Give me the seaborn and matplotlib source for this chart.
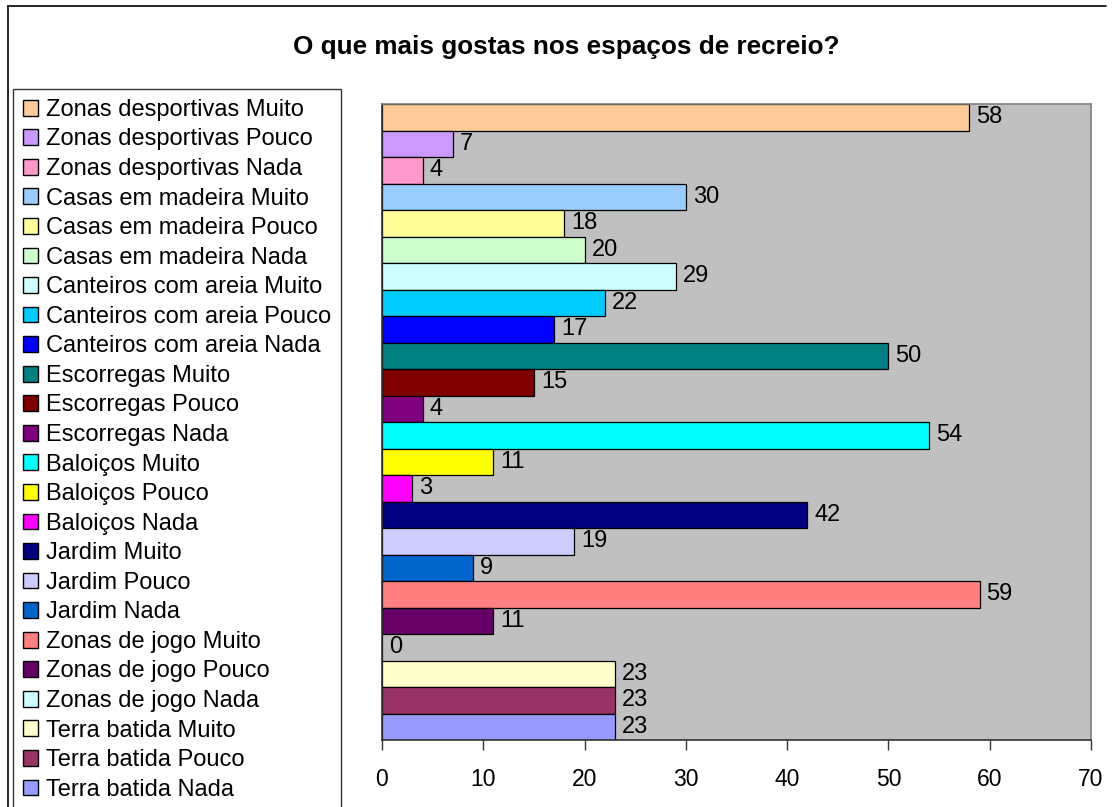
import pandas as pd
import matplotlib
matplotlib.use("Agg")
import matplotlib.pyplot as plt
from matplotlib.patches import Patch
from matplotlib.lines import Line2D
import seaborn as sns

# chart data
categories = [
    "Zonas desportivas Muito", "Zonas desportivas Pouco", "Zonas desportivas Nada",
    "Casas em madeira Muito", "Casas em madeira Pouco", "Casas em madeira Nada",
    "Canteiros com areia Muito", "Canteiros com areia Pouco", "Canteiros com areia Nada",
    "Escorregas Muito", "Escorregas Pouco", "Escorregas Nada",
    "Baloiços Muito", "Baloiços Pouco", "Baloiços Nada",
    "Jardim Muito", "Jardim Pouco", "Jardim Nada",
    "Zonas de jogo Muito", "Zonas de jogo Pouco", "Zonas de jogo Nada",
    "Terra batida Muito", "Terra batida Pouco", "Terra batida Nada",
]
values = [58, 7, 4, 30, 18, 20, 29, 22, 17, 50, 15, 4, 54, 11, 3, 42, 19, 9, 59, 11, 0, 23, 23, 23]
colors = [
    "#FFCC99", "#CC99FF", "#FF99CC",
    "#99CCFF", "#FFFF99", "#CCFFCC",
    "#CCFFFF", "#00CCFF", "#0000FF",
    "#008080", "#800000", "#800080",
    "#00FFFF", "#FFFF00", "#FF00FF",
    "#000080", "#CCCCFF", "#0066CC",
    "#FF8080", "#660066", "#CCFFFF",
    "#FFFFCC", "#993366", "#9999FF",
]
x_ticks = [0, 10, 20, 30, 40, 50, 60, 70]
title = "O que mais gostas nos espaços de recreio?"


def main():
    sns.set_style("white")
    plt.rcParams["font.family"] = ["Liberation Sans", "DejaVu Sans"]
    plt.rcParams["text.color"] = "black"
    plt.rcParams["xtick.color"] = "black"
    plt.rcParams["xtick.labelcolor"] = "black"

    df = pd.DataFrame({"Categoria": categories, "Valor": values})
    palette = dict(zip(categories, colors))

    W, H = 1114, 807
    fig = plt.figure(figsize=(W / 100, H / 100), dpi=100)
    ax = fig.add_axes([382 / W, 1 - 740 / H, (1091 - 382) / W, (740 - 104) / H])

    sns.barplot(data=df, x="Valor", y="Categoria", hue="Categoria", order=categories,
                hue_order=categories, palette=palette, saturation=1, width=1.0,
                orient="h", edgecolor="black", linewidth=0.9, legend=False, ax=ax)

    ax.set_facecolor("#C0C0C0")
    ax.set_xlim(0, 70)
    ax.set_xticks(x_ticks)
    ax.set_yticks([])
    ax.set_xlabel("")
    ax.set_ylabel("")
    ax.tick_params(axis="x", direction="out", length=7, width=1, color="#333333",
                   labelcolor="black", labelsize=16.5, pad=13.5, bottom=True)
    for side in ["left", "bottom"]:
        ax.spines[side].set_color("#333333")
        ax.spines[side].set_linewidth(1.2)
    for side in ["top", "right"]:
        ax.spines[side].set_color("#808080")
        ax.spines[side].set_linewidth(1.2)

    # value labels
    for i, v in enumerate(values):
        ax.annotate(str(v), xy=(v, i), xytext=(5, 0), textcoords="offset points",
                    ha="left", va="center", fontsize=17, color="black")

    # legend on the left
    handles = [Patch(facecolor=c, edgecolor="black", linewidth=1.0) for c in colors]
    leg = fig.legend(handles, categories, loc="upper left",
                     bbox_to_anchor=(13 / W, 1 - 89 / H), frameon=True, fancybox=False,
                     edgecolor="#333333", framealpha=1, borderaxespad=0, borderpad=0.42,
                     fontsize=17, handlelength=0.65, handleheight=0.65,
                     handletextpad=0.34, labelspacing=0.32)
    for t in leg.get_texts():
        t.set_color("black")

    # title
    fig.text(566 / W, 1 - 47 / H, title, ha="center", va="center",
             fontsize=18.8, fontweight="bold", color="black")

    # outer chart border
    fig.add_artist(Line2D([8 / W, 1106 / W], [1 - 6 / H, 1 - 6 / H],
                          transform=fig.transFigure, color="black", linewidth=1.2))
    fig.add_artist(Line2D([8 / W, 8 / W], [1 - 6 / H, 0],
                          transform=fig.transFigure, color="black", linewidth=1.2))

    plt.savefig("out.png", dpi=100)


if __name__ == "__main__":
    main()
